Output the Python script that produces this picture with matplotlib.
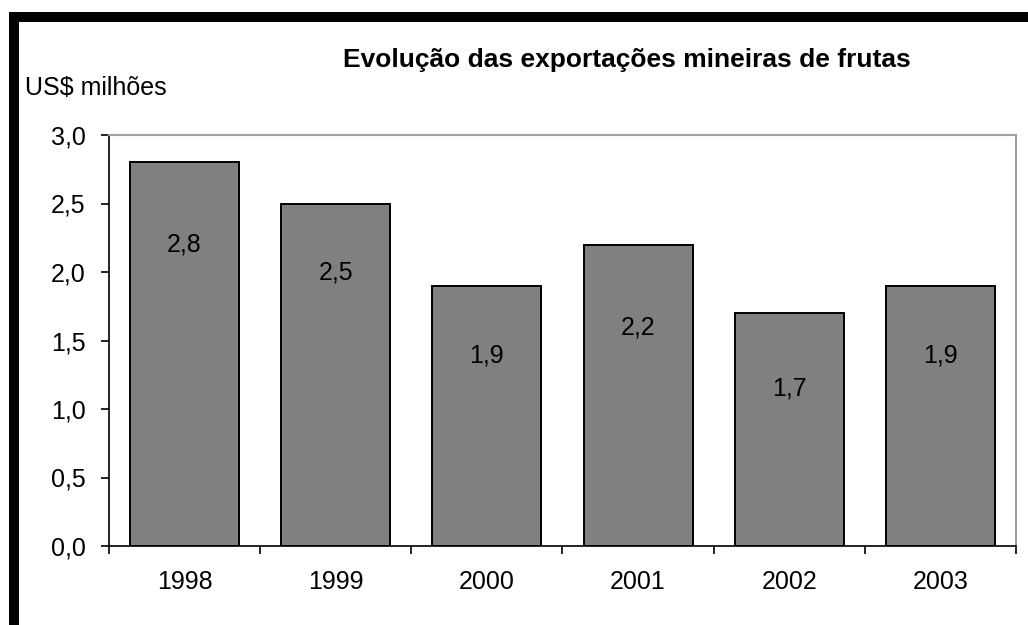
import matplotlib.pyplot as plt
from matplotlib.patches import Rectangle

# Dados do gráfico
anos = ["1998", "1999", "2000", "2001", "2002", "2003"]
valores = [2.8, 2.5, 1.9, 2.2, 1.7, 1.9]
rotulos = ["2,8", "2,5", "1,9", "2,2", "1,7", "1,9"]
ticks_y = [0.0, 0.5, 1.0, 1.5, 2.0, 2.5, 3.0]
rotulos_y = ["0,0", "0,5", "1,0", "1,5", "2,0", "2,5", "3,0"]

# Distância (em pontos) dos rótulos abaixo do topo de cada barra
deslocamentos = [59, 50, 50, 60, 54, 50]

plt.rcParams['font.family'] = ['Liberation Sans', 'DejaVu Sans']

fig = plt.figure(figsize=(10.28, 6.25), dpi=100)
fig.patch.set_facecolor('white')

# Moldura preta (topo e esquerda)
fig.add_artist(Rectangle((9 / 1028, 0), 10 / 1028, 1 - 12 / 625,
                         transform=fig.transFigure, color='black', lw=0))
fig.add_artist(Rectangle((9 / 1028, 1 - 22 / 625), 1 - 9 / 1028, 10 / 625,
                         transform=fig.transFigure, color='black', lw=0))

ax = fig.add_axes([109 / 1028, 1 - 546 / 625, (1016 - 109) / 1028, (546 - 135) / 625])

posicoes = range(len(anos))
ax.bar(posicoes, valores, width=0.72, color='#808080', edgecolor='black', linewidth=1.4)

for p, v, r, d in zip(posicoes, valores, rotulos, deslocamentos):
    ax.annotate(r, (p, v), xytext=(0, -d), textcoords='offset points',
                ha='center', va='center', fontsize=18, color='black')

ax.set_xlim(-0.5, len(anos) - 0.5)
ax.set_ylim(0, 3.0)
ax.set_yticks(ticks_y)
ax.set_yticklabels(rotulos_y, fontsize=18)
ax.set_xticks(list(posicoes))
ax.set_xticklabels(anos, fontsize=18)
ax.tick_params(axis='x', length=0, pad=17)
ax.set_xticks([i - 0.5 for i in range(len(anos) + 1)], minor=True)
ax.tick_params(axis='x', which='minor', length=6, direction='out', width=1.2)
ax.tick_params(axis='y', length=6, direction='out', width=1.2, pad=11)

ax.spines['left'].set_color('black')
ax.spines['bottom'].set_color('black')
ax.spines['left'].set_linewidth(1.2)
ax.spines['bottom'].set_linewidth(1.2)
ax.spines['top'].set_color('#a0a0a0')
ax.spines['right'].set_color('#a0a0a0')
ax.spines['top'].set_linewidth(1.5)
ax.spines['right'].set_linewidth(1.5)

fig.text(627 / 1028, 1 - 60 / 625, "Evolução das exportações mineiras de frutas",
         ha='center', va='center', fontsize=19, fontweight='bold')
fig.text(25 / 1028, 1 - 88 / 625, "US$ milhões", ha='left', va='center', fontsize=18)

fig.savefig("out.png", dpi=100)
